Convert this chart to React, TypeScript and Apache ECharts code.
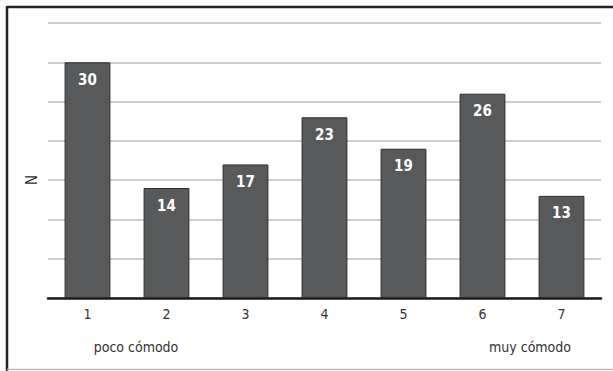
import React, { useEffect, useRef } from "react";
import * as echarts from "echarts";

const categories = ["1", "2", "3", "4", "5", "6", "7"];
const values = [30, 14, 17, 23, 19, 26, 13];
const yAxisName = "N";
const leftNote = "poco cómodo";
const rightNote = "muy cómodo";

const FONT = "'Liberation Sans Narrow', 'DejaVu Sans Condensed', 'Roboto', sans-serif";

export default function App() {
  const ref = useRef<HTMLDivElement>(null);
  useEffect(() => {
    if (!ref.current) return;
    const chart = echarts.init(ref.current, undefined, { renderer: "svg" });
    chart.setOption({
      animation: false,
      backgroundColor: "#ffffff",
      textStyle: { fontFamily: FONT },
      grid: { left: 48, right: 12, top: 23, bottom: 73 },
      xAxis: {
        type: "category",
        data: categories,
        axisLine: { lineStyle: { color: "#1a1a1a", width: 2.5 } },
        axisTick: { show: false },
        axisLabel: { color: "#333", fontSize: 14, margin: 9, fontFamily: FONT },
      },
      yAxis: {
        type: "value",
        min: 0,
        max: 35,
        interval: 5,
        axisLine: { show: false },
        axisTick: { show: false },
        axisLabel: { show: false },
        splitLine: { lineStyle: { color: "#bdbdbd", width: 1.5 } },
      },
      series: [
        {
          type: "bar",
          data: values,
          barWidth: "58%",
          itemStyle: { color: "#58595b", borderColor: "#2e2e2e", borderWidth: 1 },
          label: {
            show: true,
            position: "insideTop",
            distance: 10,
            color: "#ffffff",
            fontSize: 15,
            fontWeight: "bold",
            fontFamily: FONT,
          },
        },
      ],
      graphic: [
        { type: "line", shape: { x1: 7, y1: 7, x2: 613, y2: 7 }, style: { stroke: "#222", lineWidth: 2.5 } },
        { type: "line", shape: { x1: 7, y1: 6, x2: 7, y2: 371 }, style: { stroke: "#222", lineWidth: 2.5 } },
        { type: "line", shape: { x1: 7, y1: 369.5, x2: 613, y2: 369.5 }, style: { stroke: "#bbb", lineWidth: 1.5 } },
        {
          type: "text",
          x: 32,
          y: 180,
          rotation: Math.PI / 2,
          style: { text: yAxisName, fill: "#333", fontSize: 15, fontFamily: FONT, align: "center", verticalAlign: "middle" },
        },
        {
          type: "text",
          x: 136,
          y: 347,
          style: { text: leftNote, fill: "#333", fontSize: 14, fontFamily: FONT, align: "center", verticalAlign: "middle" },
        },
        {
          type: "text",
          x: 530,
          y: 347,
          style: { text: rightNote, fill: "#333", fontSize: 14, fontFamily: FONT, align: "center", verticalAlign: "middle" },
        },
      ],
    });
    return () => chart.dispose();
  }, []);
  return <div ref={ref} style={{ position: "fixed", left: 0, top: 0, width: 613, height: 371 }} />;
}
